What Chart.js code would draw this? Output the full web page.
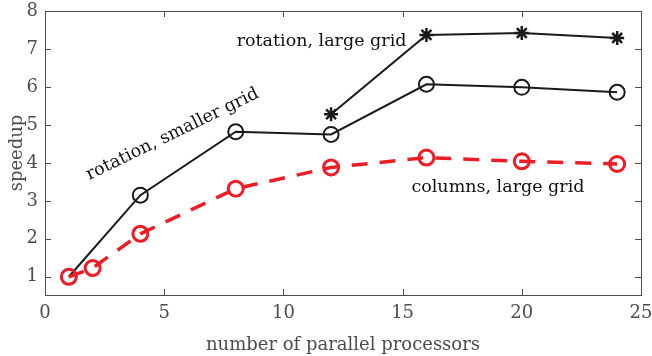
<!DOCTYPE html>
<html>
<head>
<meta charset="utf-8">
<script src="https://cdn.jsdelivr.net/npm/chart.js@4"></script>
<style>
  html, body { margin: 0; padding: 0; background: #fff; }
  #wrap { width: 652px; height: 356px; }
</style>
</head>
<body>
<div id="wrap"><canvas id="speedupChart" width="652" height="356"></canvas></div>
<script>
// processors for each run
const procSmall = [1, 4, 8, 12, 16, 20, 24];
const procLarge = [12, 16, 20, 24];
const procColumns = [1, 2, 4, 8, 12, 16, 20, 24];

// measured speedups
const rotationSmaller = [1, 3.15, 4.82, 4.75, 6.07, 5.99, 5.86];
const rotationLarge = [5.28, 7.37, 7.42, 7.29];
const columnsLarge = [1, 1.23, 2.13, 3.32, 3.88, 4.14, 4.04, 3.97];

const xTicks = [0, 5, 10, 15, 20, 25];
const yTicks = [1, 2, 3, 4, 5, 6, 7, 8];

// text labels placed next to the curves (x, y in data units)
const notes = [
  { text: 'rotation, large grid', x: 11.6, y: 7.21, angle: 0 },
  { text: 'rotation, smaller grid', x: 5.35, y: 4.75, angle: -26 },
  { text: 'columns, large grid', x: 19.0, y: 3.36, angle: 0 }
];

const serif = "'DejaVu Serif', serif";
const grey = '#4d4d4d';

function pts(xs, ys) {
  return xs.map((x, i) => ({ x: x, y: ys[i] }));
}

// box round the plot with ticks pointing inwards on all four sides
const boxPlugin = {
  id: 'box',
  afterDatasetsDraw(chart) {
    const ctx = chart.ctx;
    const a = chart.chartArea;
    const xs = chart.scales.x, ys = chart.scales.y;
    ctx.save();
    ctx.strokeStyle = grey;
    ctx.lineWidth = 1;
    ctx.strokeRect(a.left + 0.5, a.top + 0.5, a.right - a.left, a.bottom - a.top);
    ctx.beginPath();
    xTicks.forEach(v => {
      const px = Math.round(xs.getPixelForValue(v)) + 0.5;
      ctx.moveTo(px, a.bottom); ctx.lineTo(px, a.bottom - 6);
      ctx.moveTo(px, a.top); ctx.lineTo(px, a.top + 6);
    });
    yTicks.forEach(v => {
      const py = Math.round(ys.getPixelForValue(v)) + 0.5;
      ctx.moveTo(a.left, py); ctx.lineTo(a.left + 6, py);
      ctx.moveTo(a.right, py); ctx.lineTo(a.right - 6, py);
    });
    ctx.stroke();

    // curve labels
    ctx.fillStyle = '#111';
    ctx.font = "17.5px " + serif;
    ctx.textAlign = 'center';
    ctx.textBaseline = 'middle';
    notes.forEach(n => {
      ctx.save();
      ctx.translate(xs.getPixelForValue(n.x), ys.getPixelForValue(n.y));
      ctx.rotate(n.angle * Math.PI / 180);
      ctx.fillText(n.text, 0, 0);
      ctx.restore();
    });
    ctx.restore();
  }
};

new Chart(document.getElementById('speedupChart'), {
  type: 'line',
  data: {
    datasets: [
      {
        label: 'columns, large grid',
        data: pts(procColumns, columnsLarge),
        borderColor: '#ee1c25',
        borderWidth: 3.5,
        borderDash: [16, 12],
        pointStyle: 'circle',
        pointRadius: 7.5,
        pointBorderWidth: 3,
        pointBorderColor: '#ee1c25',
        pointBackgroundColor: 'rgba(0,0,0,0)',
        order: 0
      },
      {
        label: 'rotation, smaller grid',
        data: pts(procSmall, rotationSmaller),
        borderColor: '#1a1a1a',
        borderWidth: 2,
        pointStyle: 'circle',
        pointRadius: 7.5,
        pointBorderWidth: 2,
        pointBorderColor: '#1a1a1a',
        pointBackgroundColor: 'rgba(0,0,0,0)',
        order: 1
      },
      {
        label: 'rotation, large grid',
        data: pts(procLarge, rotationLarge),
        borderColor: '#1a1a1a',
        borderWidth: 2,
        pointStyle: 'star',
        pointRadius: 7,
        pointBorderWidth: 2.5,
        pointBorderColor: '#1a1a1a',
        order: 2
      }
    ]
  },
  options: {
    responsive: false,
    animation: false,
    layout: { padding: { top: 11, right: 11, left: 7, bottom: 0 } },
    plugins: {
      legend: { display: false },
      tooltip: { enabled: false }
    },
    scales: {
      x: {
        type: 'linear',
        min: 0,
        max: 25,
        afterBuildTicks: s => { s.ticks = xTicks.map(v => ({ value: v })); },
        afterFit: s => { s.height = 61; s.paddingLeft = 0; s.paddingRight = 0; },
        grid: { display: false, drawTicks: false },
        border: { display: false },
        ticks: { color: grey, font: { family: serif, size: 18 }, padding: 8, maxRotation: 0 },
        title: { display: true, text: 'number of parallel processors', color: grey, font: { family: serif, size: 18 }, padding: { top: 2, bottom: 0 } }
      },
      y: {
        type: 'linear',
        min: 0.52,
        max: 8,
        afterBuildTicks: s => { s.ticks = yTicks.map(v => ({ value: v })); },
        afterFit: s => { s.width = 38; s.paddingTop = 0; s.paddingBottom = 0; },
        grid: { display: false, drawTicks: false },
        border: { display: false },
        ticks: { color: grey, font: { family: serif, size: 18 }, padding: 7 },
        title: { display: true, text: 'speedup', color: grey, font: { family: serif, size: 18 }, padding: { top: 0, bottom: 0 } }
      }
    }
  },
  plugins: [boxPlugin]
});
</script>
</body>
</html>
